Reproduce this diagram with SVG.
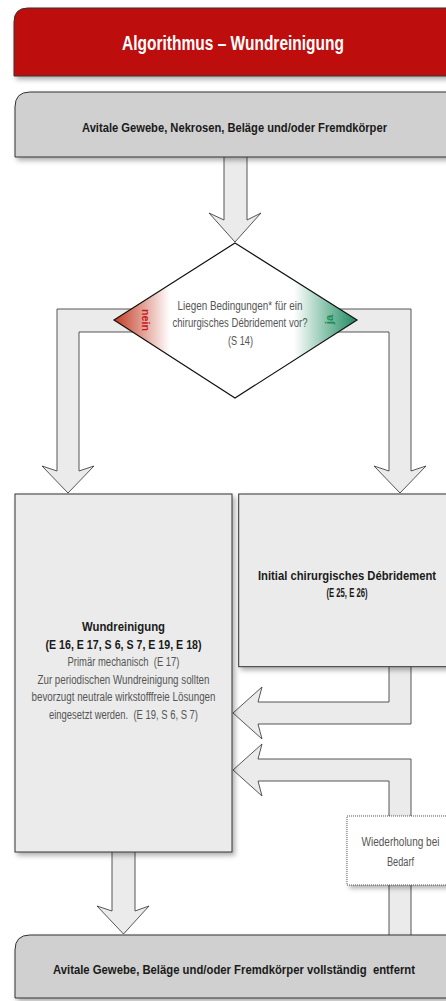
<svg xmlns="http://www.w3.org/2000/svg" width="446" height="1001" viewBox="0 0 446 1001">
<defs>
<filter id="sh" x="-10%" y="-10%" width="130%" height="140%">
<feDropShadow dx="2.5" dy="3" stdDeviation="2.5" flood-color="#000" flood-opacity="0.32"/>
</filter>
<linearGradient id="dg" x1="114" y1="0" x2="357" y2="0" gradientUnits="userSpaceOnUse">
<stop offset="0" stop-color="#C23A22"/>
<stop offset="0.23" stop-color="#FFFFFF"/>
<stop offset="0.74" stop-color="#FFFFFF"/>
<stop offset="1" stop-color="#1A8A5E"/>
</linearGradient>
</defs>
<style>
text{font-family:"Liberation Sans Narrow","Liberation Sans",Arial,sans-serif;text-anchor:middle;white-space:pre}
.b{font-weight:bold;fill:#1a1a1a;font-size:13px}
.r{fill:#555;font-size:12px}
.arr{fill:#EBEBEB;stroke:#444;stroke-width:0.9;stroke-linejoin:miter}
.box{stroke:#333;stroke-width:1}
</style>
<rect width="446" height="1001" fill="#fff"/>
<g id="connectors">
<polygon class="arr" points="224,150 224,220 209,213 235,242 261,213 247,220 247,150"/>
<polygon class="arr" points="150,309 57,309 57,471 42,466 68,493 94,466 79,471 79,332 150,332"/>
<polygon class="arr" points="320,309 411,309 411,471 426,466 400,493 374,466 389,471 389,332 320,332"/>
<polygon class="arr" points="389,660 389,702 258,702 262,687 233,713 262,739 258,724 411,724 411,660"/>
<polygon class="arr" points="389,940 389,781 258,781 262,796 233,770 262,744 258,759 411,759 411,940"/>
<polygon class="arr" points="112,845 112,911 97,906 123.5,934 149,906 135,911 135,845"/>
</g>
<g id="title">
<path class="box" filter="url(#sh)" d="M14,76 L14,22 Q14,8 28,8 L470,8 L470,76 Z" fill="#BE0F0F"/>
<text x="233" y="50" font-size="19.5" font-weight="bold" fill="#fff" textLength="222" lengthAdjust="spacingAndGlyphs">Algorithmus – Wundreinigung</text>
</g>
<g id="start">
<path class="box" filter="url(#sh)" d="M15,157 L15,107 Q15,92 30,92 L470,92 L470,157 Z" fill="#D0D0D0"/>
<text class="b" x="234.5" y="132" textLength="305" lengthAdjust="spacingAndGlyphs">Avitale Gewebe, Nekrosen, Beläge und/oder Fremdkörper</text>
</g>
<g id="decision">
<polygon points="235,243 357,320 235,398 114,320" fill="url(#dg)" stroke="#111" stroke-width="1.2"/>
<text class="r" x="240" y="309.5" font-size="13" textLength="125" lengthAdjust="spacingAndGlyphs">Liegen Bedingungen* für ein</text>
<text class="r" x="240" y="327" font-size="13" textLength="135" lengthAdjust="spacingAndGlyphs">chirurgisches Débridement vor?</text>
<text class="r" x="240.5" y="344.5" font-size="13" textLength="25" lengthAdjust="spacingAndGlyphs">(S 14)</text>
<text transform="translate(142,320) rotate(90)" font-size="11.5" font-weight="bold" fill="#C8161D" textLength="22" lengthAdjust="spacingAndGlyphs">nein</text>
<text transform="translate(333,319.5) rotate(-90)" font-size="11.5" font-weight="bold" fill="#1A8A5A">ja</text>
</g>
<g id="debridement">
<rect class="box" filter="url(#sh)" x="238.7" y="494" width="230" height="172.7" fill="#EBEBEB"/>
<text class="b" x="347" y="580" font-size="12.5" textLength="178" lengthAdjust="spacingAndGlyphs">Initial chirurgisches Débridement</text>
<text class="b" x="347" y="597" font-size="12.5" textLength="41" lengthAdjust="spacingAndGlyphs">(E 25, E 26)</text>
</g>
<g id="wundreinigung">
<rect class="box" filter="url(#sh)" x="15" y="494" width="217" height="358" fill="#EBEBEB"/>
<text class="b" x="123.5" y="631" font-size="12.5" textLength="83" lengthAdjust="spacingAndGlyphs">Wundreinigung</text>
<text class="b" x="123.5" y="648.5" font-size="12.5" textLength="156" lengthAdjust="spacingAndGlyphs">(E 16, E 17, S 6, S 7, E 19, E 18)</text>
<text class="r" x="123.5" y="666" textLength="112" lengthAdjust="spacingAndGlyphs">Primär mechanisch  (E 17)</text>
<text class="r" x="123.5" y="683.5" textLength="172" lengthAdjust="spacingAndGlyphs">Zur periodischen Wundreinigung sollten</text>
<text class="r" x="123.5" y="701" textLength="184" lengthAdjust="spacingAndGlyphs">bevorzugt neutrale wirkstofffreie Lösungen</text>
<text class="r" x="123.5" y="718.5" textLength="149" lengthAdjust="spacingAndGlyphs">eingesetzt werden.  (E 19, S 6, S 7)</text>
</g>
<g id="wiederholung">
<rect filter="url(#sh)" x="347" y="816" width="120" height="69" fill="#fff" stroke="#333" stroke-width="0.8" stroke-dasharray="1,1"/>
<text class="r" x="400.5" y="846" textLength="78" lengthAdjust="spacingAndGlyphs">Wiederholung bei</text>
<text class="r" x="400.5" y="866" textLength="27" lengthAdjust="spacingAndGlyphs">Bedarf</text>
</g>
<g id="end">
<path class="box" filter="url(#sh)" d="M15,998 L15,950 Q15,935 30,935 L470,935 L470,998 Z" fill="#D0D0D0"/>
<text class="b" x="234" y="973.5" textLength="362" lengthAdjust="spacingAndGlyphs">Avitale Gewebe, Beläge und/oder Fremdkörper vollständig  entfernt</text>
</g>
</svg>
